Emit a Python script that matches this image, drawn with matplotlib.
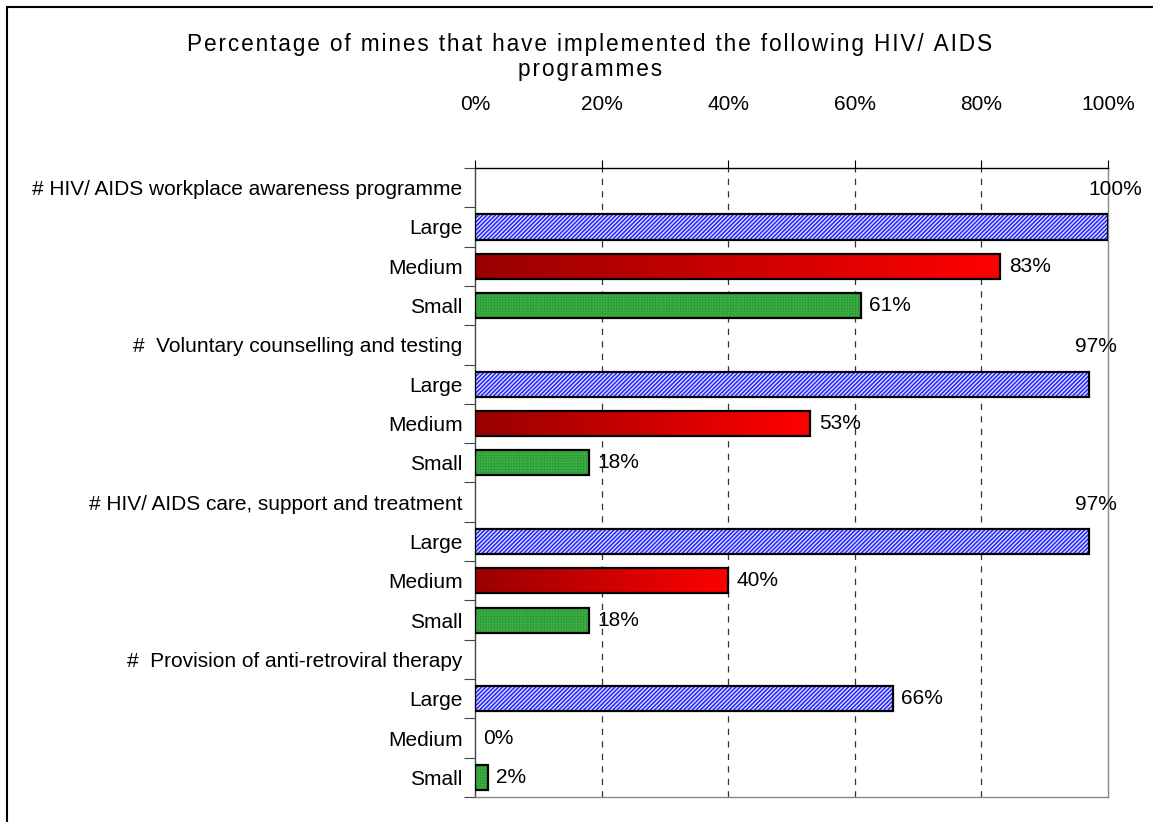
import numpy as np
import matplotlib
matplotlib.use('Agg')
import matplotlib.pyplot as plt
from matplotlib.colors import LinearSegmentedColormap
from matplotlib.patches import Rectangle

plt.rcParams['font.family'] = ['Liberation Sans', 'DejaVu Sans']
plt.rcParams['hatch.linewidth'] = 1.0

# 数据
programmes = ["# HIV/ AIDS workplace awareness programme",
              "#  Voluntary counselling and testing",
              "# HIV/ AIDS care, support and treatment",
              "#  Provision of anti-retroviral therapy"]
sizes = ["Large", "Medium", "Small"]
large = [100, 97, 97, 66]
medium = [83, 53, 40, 0]
small = [61, 18, 18, 2]
x_ticks = [0, 20, 40, 60, 80, 100]
title_lines = ["Percentage of mines that have implemented the following HIV/ AIDS", "programmes"]

fig = plt.figure(figsize=(11.53, 8.22), dpi=100)
ax = fig.add_axes([475 / 1153, 1 - 797 / 822, 633 / 1153, 629 / 822])

# 行位置: 每个类别一行标题 + 三行
labels = []
y_large, y_med, y_small, y_head = [], [], [], []
r = 0
for p in programmes:
    y_head.append(r)
    labels.append(p)
    for s in sizes:
        r += 1
        labels.append(s)
    y_large.append(y_head[-1] + 1)
    y_med.append(y_head[-1] + 2)
    y_small.append(y_head[-1] + 3)
    r += 1
n_rows = r
h = 0.64

# 网格线
for t in x_ticks[1:-1]:
    ax.axvline(t, color='#333333', lw=0.9, ls=(0, (5, 5)), zorder=0)

# Large: 蓝色细斜纹
ax.barh(y_large, large, height=h, color='#2525ff', edgecolor='#e0e0ff', hatch='////////', lw=0, zorder=2)
ax.barh(y_large, large, height=h, fill=False, edgecolor='black', lw=1.6, zorder=3)

# Medium: 红色渐变
cmap = LinearSegmentedColormap.from_list('red_grad', ['#990000', '#ff0000'])
grad = np.linspace(0, 1, 256).reshape(1, -1)
for y, v in zip(y_med, medium):
    if v > 0:
        ax.imshow(grad, cmap=cmap, extent=[0, v, y + h / 2, y - h / 2], aspect='auto', zorder=2)
        ax.add_patch(Rectangle((0, y - h / 2), v, h, fill=False, edgecolor='black', lw=1.6, zorder=3))

# Small: 绿色格纹
ax.barh(y_small, small, height=h, color='#26902e', edgecolor='#3aaa42', hatch='++++++', lw=0, zorder=2)
ax.barh(y_small, small, height=h, fill=False, edgecolor='black', lw=1.6, zorder=3)

ax.set_xlim(0, 100)
ax.set_ylim(n_rows - 0.5, -0.5)

# 数据标签
fs = 15
for yh, yl, v in zip(y_head, y_large, large):
    if v >= 90:
        ax.text(v + 1.1, yh + 0.05, f"{v}%", ha='center', va='center', fontsize=fs)
    else:
        ax.annotate(f"{v}%", (v, yl), xytext=(6, 0), textcoords='offset points',
                    ha='left', va='center', fontsize=fs)
for y, v in zip(y_med + y_small, medium + small):
    ax.annotate(f"{v}%", (v, y), xytext=(6, 0), textcoords='offset points',
                ha='left', va='center', fontsize=fs)

# 坐标轴
ax.set_xticks(x_ticks)
ax.set_xticklabels([f"{t}%" for t in x_ticks], fontsize=fs)
ax.tick_params(axis='x', top=True, bottom=False, labeltop=True, labelbottom=False,
               direction='out', length=6, pad=33, width=0.8)
ax.set_yticks(range(n_rows))
ax.set_yticklabels(labels, fontsize=fs)
ax.set_yticks(np.arange(n_rows + 1) - 0.5, minor=True)
ax.tick_params(axis='y', which='major', length=0, pad=9)
ax.tick_params(axis='y', which='minor', length=8, direction='out', width=0.8, color='#444444')
ax.spines['top'].set_color('black')
ax.spines['left'].set_color('#444444')
ax.spines['right'].set_color('#888888')
ax.spines['bottom'].set_color('#888888')
for s in ax.spines.values():
    s.set_linewidth(1.0)

# 标题 (Excel 风格的字间距, 用 hair space 模拟)
spaced = "\n".join("\u200a".join(line) for line in title_lines)
fig.text(590 / 1153, 1 - 57 / 822, spaced, ha='center', va='center', fontsize=16.3,
         linespacing=1.1, family=['Liberation Sans', 'DejaVu Sans'])

# 外框
fig.patches.append(Rectangle((7 / 1153, -0.01), 1.02, 1 - 7 / 822 + 0.01, transform=fig.transFigure,
                             fill=False, edgecolor='black', lw=1.5, figure=fig))

fig.savefig('out.png', dpi=100)
